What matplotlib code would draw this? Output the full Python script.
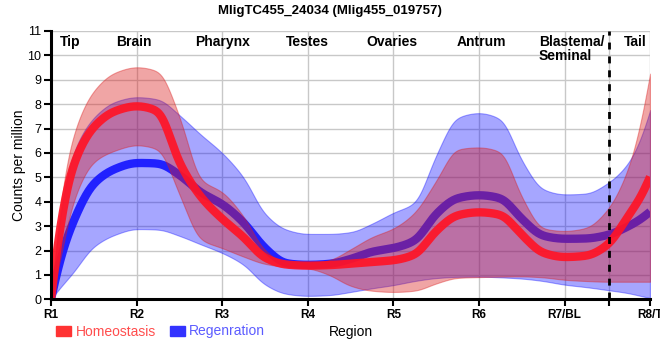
import numpy as np
import matplotlib
matplotlib.use("Agg")
import matplotlib.pyplot as plt
from matplotlib.patches import Patch

plt.rcParams['font.family'] = ['Liberation Sans', 'DejaVu Sans']

# ---------------- data ----------------
title = "MligTC455_24034 (Mlig455_019757)"
tick_labels = ["R1", "R2", "R3", "R4", "R5", "R6", "R7/BL", "R8/T"]
region_names = ["Tip", "Brain", "Pharynx", "Testes", "Ovaries", "Antrum", "Blastema/\nSeminal", "Tail"]
region_pos = [0.22, 0.97, 2.0, 2.99, 3.98, 5.03, 5.7, 6.83]

knots = [0, 0.125, 0.25, 0.5, 0.75, 1, 1.25, 1.5, 1.75, 2, 2.25, 2.5, 2.75, 3, 3.25,
         3.5, 3.75, 4, 4.25, 4.5, 4.75, 5, 5.25, 5.5, 5.75, 6, 6.25, 6.5, 6.75, 6.875, 7]

homeo_mean = [0, 3.4, 5.4, 7.07, 7.72, 7.92, 7.72, 5.6, 4.2, 3.3, 2.55, 1.7, 1.42, 1.38, 1.4,
              1.46, 1.53, 1.6, 1.83, 2.8, 3.45, 3.57, 3.47, 2.65, 1.9, 1.73, 1.78, 2.22, 3.45, 4.1, 5.02]
homeo_upper = [0, 4.3, 6.6, 8.55, 9.3, 9.52, 9.35, 7.5, 4.9, 4.4, 3.4, 2.0, 1.5, 1.48, 1.6,
               2.05, 2.55, 2.9, 3.55, 4.85, 6.15, 6.23, 6.05, 4.2, 2.9, 2.8, 2.92, 3.66, 5.4, 7.0, 9.25]
homeo_lower = [0, 1.9, 3.9, 5.63, 6.1, 6.32, 6.15, 4.3, 2.45, 2.1, 1.75, 1.45, 1.33, 1.27, 1.0,
               0.55, 0.35, 0.3, 0.35, 0.65, 0.88, 0.91, 0.93, 0.94, 0.9, 0.8, 0.75, 0.72, 0.72, 0.72, 0.72]

regen_mean = [0, 1.85, 3.1, 4.75, 5.35, 5.59, 5.57, 5.1, 4.38, 3.9, 3.15, 2.1, 1.47, 1.41, 1.45,
              1.65, 1.95, 2.1, 2.4, 3.5, 4.15, 4.27, 4.15, 3.3, 2.6, 2.48, 2.49, 2.63, 3.0, 3.25, 3.59]
regen_upper = [0, 3.9, 5.9, 7.45, 8.1, 8.29, 8.2, 7.55, 6.75, 6.0, 5.0, 3.5, 2.85, 2.68, 2.68,
               2.75, 3.1, 3.55, 3.95, 5.9, 7.45, 7.64, 7.4, 5.7, 4.5, 4.3, 4.33, 4.75, 5.6, 6.45, 7.75]
regen_lower = [0, 0.55, 1.05, 2.16, 2.65, 2.88, 2.86, 2.6, 2.25, 1.9, 1.42, 0.6, 0.22, 0.14, 0.17,
               0.3, 0.45, 0.58, 0.75, 0.87, 0.92, 0.93, 0.9, 0.85, 0.75, 0.6, 0.5, 0.38, 0.25, 0.15, 0.05]

divider_x = 6.52


# ---------------- smooth monotone cubic (PCHIP) + light gaussian smoothing ----------------
def _end_slope(h0, h1, d0, d1):
    m = ((2 * h0 + h1) * d0 - h0 * d1) / (h0 + h1)
    if np.sign(m) != np.sign(d0):
        m = 0.0
    elif np.sign(d0) != np.sign(d1) and abs(m) > abs(3 * d0):
        m = 3 * d0
    return m


def pchip(x, y, xn):
    x = np.asarray(x, float)
    y = np.asarray(y, float)
    h = np.diff(x)
    d = np.diff(y) / h
    m = np.zeros_like(y)
    for k in range(1, len(x) - 1):
        if d[k - 1] * d[k] > 0:
            w1 = 2 * h[k] + h[k - 1]
            w2 = h[k] + 2 * h[k - 1]
            m[k] = (w1 + w2) / (w1 / d[k - 1] + w2 / d[k])
    m[0] = _end_slope(h[0], h[1], d[0], d[1])
    m[-1] = _end_slope(h[-1], h[-2], d[-1], d[-2])
    idx = np.clip(np.searchsorted(x, xn) - 1, 0, len(x) - 2)
    t = (xn - x[idx]) / h[idx]
    h00 = 2 * t**3 - 3 * t**2 + 1
    h10 = t**3 - 2 * t**2 + t
    h01 = -2 * t**3 + 3 * t**2
    h11 = t**3 - t**2
    return h00 * y[idx] + h10 * h[idx] * m[idx] + h01 * y[idx + 1] + h11 * h[idx] * m[idx + 1]


def curve(x, y, xn, sigma_pts=5):
    yn = pchip(x, y, xn)
    n = int(4 * sigma_pts)
    k = np.exp(-0.5 * (np.arange(-n, n + 1) / sigma_pts) ** 2)
    k /= k.sum()
    left = 2 * yn[0] - yn[1:n + 1][::-1]
    right = 2 * yn[-1] - yn[-n - 1:-1][::-1]
    padded = np.concatenate([left, yn, right])
    return np.convolve(padded, k, mode='valid')


xs = np.linspace(0, 7, 701)

# ---------------- figure ----------------
fig = plt.figure(figsize=(6.6, 3.6), dpi=100)
ax = fig.add_axes([0.0773, 0.1686, 0.9077, 0.7454])

blue_band = (0.0, 0.0, 1.0)
red_band = (0.86, 0.12, 0.12)

ax.fill_between(xs, curve(knots, regen_lower, xs), curve(knots, regen_upper, xs),
                color=blue_band, alpha=0.35, lw=0.8, zorder=2)
ax.plot(xs, curve(knots, regen_mean, xs), color=(0.1, 0.1, 1.0), lw=6, alpha=0.95,
        solid_capstyle='butt', zorder=3)
ax.fill_between(xs, curve(knots, homeo_lower, xs), curve(knots, homeo_upper, xs),
                color=red_band, alpha=0.4, lw=0.8, zorder=4)
ax.plot(xs, curve(knots, homeo_mean, xs), color=(1.0, 0.08, 0.15), lw=6, alpha=0.92,
        solid_capstyle='butt', zorder=5)

ax.axvline(divider_x, color='black', lw=2, ls=(0, (2.5, 2.5)), zorder=6)

ax.set_xlim(0, 7)
ax.set_ylim(0, 11)
ax.set_xticks(list(range(8)) + [divider_x])
ax.set_xticklabels(tick_labels + [""], fontweight='bold', fontsize=8.5)
ax.set_yticks(range(12))
ax.set_yticklabels([str(v) for v in range(12)], fontsize=9)
ax.grid(True, color='#c8c8c8', lw=1, zorder=0)
ax.set_axisbelow(True)

for s in ['top', 'right']:
    ax.spines[s].set_visible(False)
for s in ['left', 'bottom']:
    ax.spines[s].set_linewidth(2.2)
    ax.spines[s].set_zorder(7)
ax.tick_params(axis='both', length=5, width=1.5, color='black', pad=2)

ax.set_ylabel("Counts per million", fontsize=10)
ax.yaxis.set_label_coords(-0.042, 0.5)
ax.set_xlabel("Region", fontsize=10, labelpad=3)

for name, pos in zip(region_names, region_pos):
    ha = 'left' if '\n' in name else 'center'
    ax.text(pos, 10.85, name, ha=ha, va='top', fontsize=10, fontweight='bold',
            linespacing=1.0, zorder=8)

fig.text(0.5, 0.985, title, ha='center', va='top', fontsize=9.5, fontweight='bold')

handles = [Patch(color='#ff3333'), Patch(color='#3333ff')]
leg = fig.legend(handles, ["Homeostasis", "Regenration"], loc='lower left',
                 bbox_to_anchor=(0.066, 0.025), ncol=2, frameon=False, fontsize=10,
                 handlelength=1.1, handleheight=0.75, handletextpad=0.3, columnspacing=1.0,
                 labelcolor=['#ff4d4d', '#5c5cff'])

fig.savefig("out.png", dpi=100)
